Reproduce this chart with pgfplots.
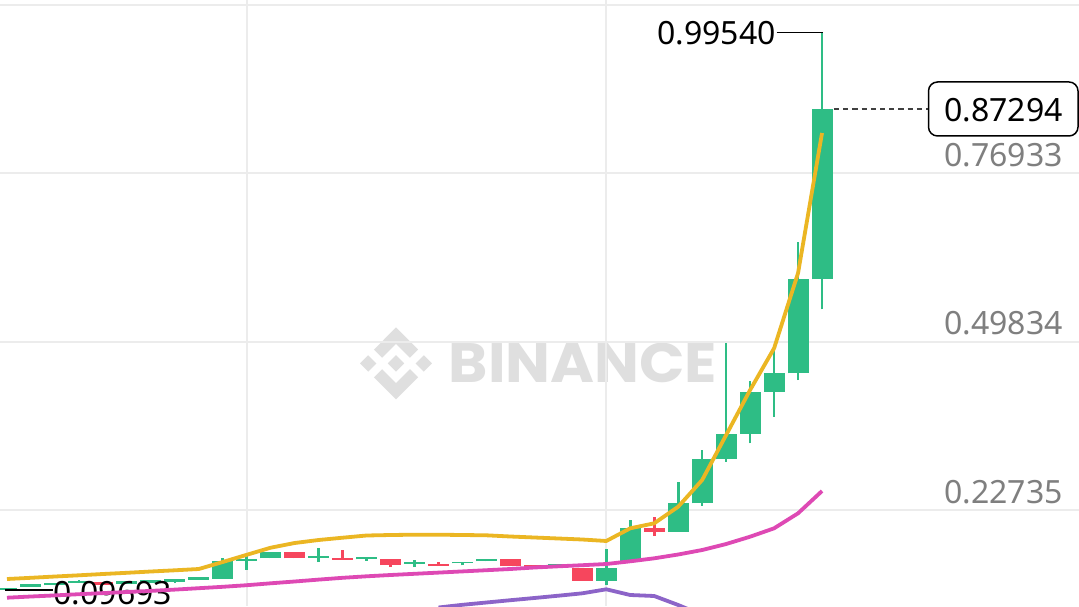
\documentclass[border=0pt]{standalone}
\usepackage{fontspec}
\setmainfont{Noto Sans}
\newfontfamily\wmfont{Poppins}
\usepackage{pgfplots}
\usepackage{pgfplotstable}
\pgfplotsset{compat=1.18}
\usetikzlibrary{backgrounds}

\definecolor{bngreen}{HTML}{2EBD85}
\definecolor{bnred}{HTML}{F6465D}
\definecolor{maseven}{HTML}{EBB623}
\definecolor{matwentyfive}{HTML}{DE49B4}
\definecolor{manine}{HTML}{8C64C8}
\definecolor{gridgray}{HTML}{ECECEC}
\definecolor{wmgray}{HTML}{DFDFDF}
\definecolor{lblgray}{HTML}{7F7F7F}

% candles: index, open, high, low, close
\pgfplotstableread{
i o h l c
0 0.0982 0.1022 0.09693 0.1022
1 0.1035 0.1075 0.1035 0.1075
2 0.1062 0.1102 0.1062 0.1102
3 0.1095 0.1147 0.1095 0.1135
5 0.1090 0.1130 0.1090 0.1130
6 0.1099 0.1139 0.1099 0.1139
7 0.1115 0.1155 0.1098 0.1155
8 0.1148 0.1188 0.1148 0.1188
9 0.1170 0.1505 0.1170 0.1460
10 0.1452 0.1549 0.1308 0.1486
11 0.1496 0.1602 0.1496 0.1602
13 0.1505 0.1662 0.1436 0.1539
15 0.1480 0.1522 0.1453 0.1522
17 0.1408 0.1463 0.1356 0.1442
19 0.1414 0.1436 0.1382 0.1436
20 0.1448 0.1480 0.1448 0.1480
23 0.1380 0.1400 0.1380 0.1400
25 0.1135 0.1641 0.1066 0.1335
26 0.1441 0.2113 0.1441 0.1979
28 0.1924 0.2719 0.1924 0.2391
29 0.2381 0.3239 0.2338 0.3090
30 0.3090 0.4957 0.3051 0.3497
31 0.3497 0.4355 0.3347 0.4178
32 0.4178 0.4881 0.3775 0.4474
33 0.4474 0.6592 0.4366 0.5987
34 0.5987 0.99540 0.5504 0.87294
}\greentab

\pgfplotstableread{
i o h l c
4 0.1114 0.1114 0.1074 0.1074
12 0.1602 0.1602 0.1496 0.1496
14 0.1500 0.1630 0.1470 0.1470
16 0.1480 0.1480 0.1356 0.1388
18 0.1409 0.1441 0.1371 0.1371
21 0.1485 0.1485 0.1371 0.1371
22 0.1395 0.1395 0.1375 0.1375
24 0.1335 0.1335 0.1135 0.1135
27 0.1979 0.2166 0.1855 0.1924
}\redtab

\begin{document}
\begin{tikzpicture}
\begin{axis}[
  scale only axis, width=539.5pt, height=303pt,
  xmin=-0.292, xmax=44.72, ymin=0.07282, ymax=1.04830,
  axis line style={draw=none}, major tick length=0pt,
  xtick={10,25}, ytick={0.22735,0.49834,0.76933,1.04032},
  xticklabels={}, yticklabels={},
  xmajorgrids, ymajorgrids,
  major grid style={draw=gridgray, line width=1pt},
  clip=true,
]
\coordinate (TL) at (rel axis cs:0,1);
\coordinate (BR) at (rel axis cs:1,0);

% wicks
\addplot[draw=none, mark=none, forget plot,
  error bars/.cd, y dir=plus, y explicit, error mark=none,
  error bar style={draw=bngreen, line width=1.3pt}]
  table[x=i, y=l, y error expr=\thisrow{h}-\thisrow{l}] {\greentab};
\addplot[draw=none, mark=none, forget plot,
  error bars/.cd, y dir=plus, y explicit, error mark=none,
  error bar style={draw=bnred, line width=1.3pt}]
  table[x=i, y=l, y error expr=\thisrow{h}-\thisrow{l}] {\redtab};
% bodies
\addplot[draw=none, mark=none, forget plot,
  error bars/.cd, y dir=plus, y explicit, error mark=none,
  error bar style={draw=bngreen, line width=10.5pt, line cap=butt}]
  table[x=i, y=o, y error expr=\thisrow{c}-\thisrow{o}] {\greentab};
\addplot[draw=none, mark=none, forget plot,
  error bars/.cd, y dir=plus, y explicit, error mark=none,
  error bar style={draw=bnred, line width=10.5pt, line cap=butt}]
  table[x=i, y=c, y error expr=\thisrow{o}-\thisrow{c}] {\redtab};

% low marker
\draw[black, line width=0.6pt] (axis cs:-0.083,0.0985) -- (axis cs:1.919,0.0985);
\node[anchor=base west, inner sep=0pt, font=\fontsize{16}{18}\selectfont, text=black]
  at (axis cs:1.93,0.07604) {0.09693};

% MA(99)
\addplot[manine, line width=1.9pt, line join=round, mark=none] coordinates {
(18,0.07040)(19,0.07475)(20,0.07845)(21,0.08215)(22,0.08570)(23,0.08940)
(24,0.09326)(25,0.09970)(26,0.09053)(27,0.08892)(28,0.07443)(29,0.05833)};
% MA(25)
\addplot[matwentyfive, line width=1.9pt, line join=round, mark=none] coordinates {
(0,0.08618)(1,0.08811)(2,0.08988)(3,0.09181)(4,0.09358)(5,0.09535)(6,0.09713)
(7,0.09922)(8,0.10147)(9,0.10373)(10,0.10630)(11,0.10936)(12,0.11226)(13,0.11532)
(14,0.11821)(15,0.12063)(16,0.12272)(17,0.12465)(18,0.12658)(19,0.12851)(20,0.13044)
(21,0.13238)(22,0.13479)(23,0.13672)(24,0.13850)(25,0.14043)(26,0.14477)(27,0.14960)
(28,0.15572)(29,0.16296)(30,0.17262)(31,0.18437)(32,0.19789)(33,0.22204)(34,0.25793)};
% MA(7)
\addplot[maseven, line width=1.9pt, line join=round, mark=none] coordinates {
(0,0.11628)(1,0.11821)(2,0.12030)(3,0.12224)(4,0.12433)(5,0.12626)(6,0.12835)
(7,0.13028)(8,0.13238)(9,0.14364)(10,0.15524)(11,0.16666)(12,0.17423)(13,0.17906)
(14,0.18276)(15,0.18630)(16,0.18711)(17,0.18759)(18,0.18759)(19,0.18711)(20,0.18662)
(21,0.18469)(22,0.18308)(23,0.18147)(24,0.17986)(25,0.17745)(26,0.19789)(27,0.20594)
(28,0.23266)(29,0.27564)(30,0.34808)(31,0.42051)(32,0.48764)(33,0.60885)(34,0.83421)};
\end{axis}

% watermark behind everything
\begin{scope}[on background layer, shift={(TL)}, x=0.5pt, y=-0.5pt]
  \fill[white] (0,0) rectangle (1079,606);
  \begin{scope}[shift={(360,327.5)}, x=0.2843pt, y=-0.2843pt]
    \fill[wmgray] (38.73,53.2) -- (63.3,28.64) -- (87.89,53.21) -- (102.19,38.91) -- (63.3,0) -- (24.43,38.9) -- cycle;
    \fill[wmgray] (0,63.31) -- (14.3,49.01) -- (28.6,63.31) -- (14.3,77.61) -- cycle;
    \fill[wmgray] (38.73,73.41) -- (63.3,98) -- (87.89,73.41) -- (102.2,87.7) -- (63.3,126.61) -- (24.42,87.74) -- cycle;
    \fill[wmgray] (98,63.31) -- (112.3,49.01) -- (126.6,63.31) -- (112.3,77.61) -- cycle;
    \fill[wmgray] (77.79,63.3) -- (63.3,48.8) -- (48.81,63.29) -- (63.3,77.79) -- cycle;
  \end{scope}
  \node[anchor=south west, inner sep=0pt, text=wmgray] at (448.3,382.7)
    {\resizebox{134.2pt}{19.7pt}{\wmfont\bfseries BINANCE}};
\end{scope}

% price labels
\begin{scope}[shift={(TL)}, x=0.5pt, y=-0.5pt, every node/.style={inner sep=0pt, font=\fontsize{16}{18}\selectfont}]
  \node[anchor=base east, text=lblgray] at (1063,167) {0.76933};
  \node[anchor=base east, text=lblgray] at (1063,335) {0.49834};
  \node[anchor=base east, text=lblgray] at (1063,504) {0.22735};
  \draw[black!75, line width=0.6pt, dash pattern=on 2.6pt off 2pt] (834,109) -- (928,109);
  \draw[black, line width=0.75pt, fill=white, rounded corners=4.5pt] (928.5,82) rectangle (1078,136);
  \node[anchor=base east, text=black] at (1063,121.7) {0.87294};
  \draw[black, line width=0.6pt] (776.5,32.5) -- (823,32.5);
  \node[anchor=base east, text=black] at (776,45) {0.99540};
\end{scope}

\pgfresetboundingbox
\useasboundingbox (TL) rectangle (BR);
\end{tikzpicture}
\end{document}
